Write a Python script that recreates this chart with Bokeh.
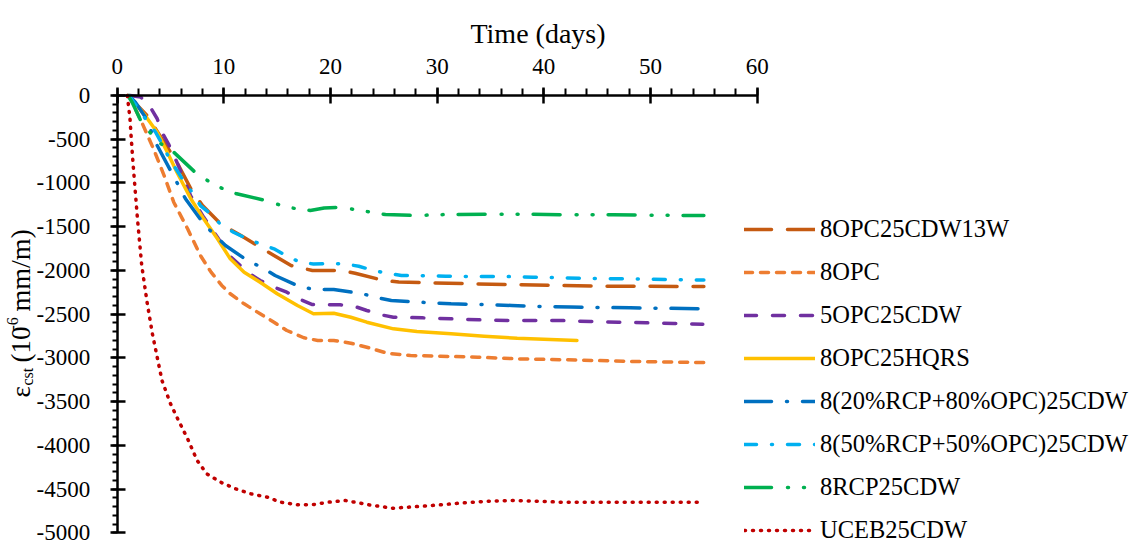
from bokeh.plotting import figure
from bokeh.models import Range1d, FixedTicker, Label, Legend, LegendItem
from bokeh.embed import file_html
from bokeh.resources import INLINE

# ---------------- data ----------------
t_13w = [1.0, 2.8, 4.4, 5.6, 6.9, 8.0, 9.7, 11.6, 13.4, 14.7, 16.3, 18.3, 20.9, 22.3, 25.0, 26.4, 29.2, 33.3, 37.5, 41.6, 45.8, 49.8, 55.0]
v_13w = [0, -229, -534, -763, -1067, -1258, -1467, -1601, -1735, -1829, -1944, -2001, -2001, -2032, -2115, -2132, -2142, -2153, -2164, -2172, -2180, -2180, -2185]

t_opc = [1.1, 2.3, 3.4, 4.4, 5.3, 6.6, 7.8, 8.8, 9.8, 10.6, 11.9, 13.4, 14.7, 15.9, 17.5, 18.8, 20.3, 21.9, 23.4, 25.3, 27.5, 30.3, 33.8, 37.5, 42.2, 48.4, 55.0]
v_opc = [0, -305, -609, -915, -1220, -1524, -1829, -2020, -2172, -2267, -2382, -2496, -2592, -2687, -2770, -2801, -2801, -2832, -2878, -2946, -2973, -2981, -2992, -3011, -3022, -3041, -3053]

t_5opc = [1.2, 2.2, 3.1, 3.75, 4.2, 4.8, 5.65, 6.9, 8.1, 9.4, 10.6, 12.2, 13.4, 14.7, 15.9, 17.0, 18.3, 19.5, 20.9, 22.2, 23.4, 24.7, 25.9, 28.6, 31.3, 33.9, 36.6, 39.1, 41.7, 44.4, 47.0, 49.6, 52.2, 54.9]
v_5opc = [0, -17, -134, -266, -420, -552, -777, -1150, -1390, -1620, -1840, -2020, -2115, -2192, -2249, -2325, -2390, -2393, -2393, -2409, -2458, -2507, -2535, -2542, -2553, -2565, -2573, -2573, -2573, -2584, -2592, -2599, -2607, -2615]

t_hqrs = [1.1, 2.5, 3.75, 4.7, 5.6, 6.9, 8.1, 9.4, 10.6, 11.9, 13.4, 15.0, 16.9, 18.4, 20.3, 21.9, 23.4, 25.9, 28.1, 31.3, 34.4, 37.5, 43.1]
v_hqrs = [0, -209, -420, -648, -877, -1181, -1410, -1638, -1867, -2020, -2135, -2267, -2401, -2496, -2489, -2535, -2592, -2668, -2698, -2725, -2752, -2775, -2801]

t_20 = [1.1, 1.7, 2.65, 3.75, 5.0, 5.75, 6.4, 8.0, 9.0, 10.15, 12.2, 13.6, 14.8, 17.2, 18.75, 20.3, 23.0, 24.3, 25.7, 28.4, 31.3, 34.1, 37.0, 39.7, 42.5, 45.3, 48.1, 50.9, 55.0]
v_20 = [0, -77, -248, -572, -858, -1029, -1181, -1448, -1581, -1715, -1886, -1969, -2058, -2192, -2220, -2218, -2267, -2310, -2344, -2363, -2382, -2390, -2401, -2413, -2418, -2424, -2427, -2432, -2439]

t_50 = [1.1, 2.3, 3.6, 4.2, 4.7, 5.3, 6.1, 6.9, 7.8, 8.75, 9.7, 10.9, 12.2, 13.4, 14.7, 15.8, 17.1, 18.4, 19.8, 21.2, 22.65, 23.8, 25.25, 26.65, 28.0, 30.8, 33.4, 36.2, 39.0, 41.7, 44.4, 47.25, 50.0, 52.7, 55.0]
v_50 = [0, -209, -420, -552, -675, -800, -952, -1086, -1258, -1353, -1475, -1563, -1640, -1696, -1753, -1829, -1904, -1927, -1921, -1924, -1952, -1993, -2032, -2058, -2058, -2066, -2069, -2069, -2078, -2084, -2092, -2096, -2100, -2107, -2110]

t_rcp = [1.0, 1.4, 2.2, 3.1, 4.1, 5.3, 7.3, 8.5, 9.8, 11.2, 13.8, 15.2, 16.65, 18.1, 19.4, 20.9, 22.25, 23.75, 25.15, 27.9, 30.8, 35.0, 38.0, 42.2, 46.5, 50.7, 55.0]
v_rcp = [0, -77, -286, -426, -552, -648, -877, -975, -1060, -1124, -1197, -1250, -1292, -1315, -1286, -1277, -1303, -1334, -1361, -1372, -1361, -1357, -1357, -1364, -1364, -1369, -1372]

t_uceb = [0.95, 1.2, 1.3, 1.5, 1.9, 2.3, 2.8, 3.3, 3.75, 4.2, 5.0, 5.6, 6.6, 7.5, 8.4, 9.7, 11.1, 12.5, 14.1, 15.3, 16.9, 18.4, 19.8, 21.4, 23.6, 25.8, 28.1, 30.3, 32.5, 34.7, 37.0, 39.4, 41.6, 55.0]
v_uceb = [0, -266, -457, -800, -1410, -1944, -2363, -2725, -2992, -3259, -3525, -3679, -3925, -4174, -4326, -4422, -4497, -4554, -4593, -4650, -4680, -4677, -4650, -4631, -4680, -4719, -4700, -4680, -4657, -4639, -4631, -4639, -4650, -4650]

series_names = ["8OPC25CDW13W", "8OPC", "5OPC25CDW", "8OPC25HQRS",
                "8(20%RCP+80%OPC)25CDW", "8(50%RCP+50%OPC)25CDW", "8RCP25CDW", "UCEB25CDW"]
x_ticks = [0, 10, 20, 30, 40, 50, 60]
y_ticks = list(range(-5000, 1, 500))

# ---------------- styling ----------------
series_style = [
    ("#C55A11", "27 16"),
    ("#ED7D31", "8 8"),
    ("#7030A0", "12 16"),
    ("#FFC000", "solid"),
    ("#0070C0", "27 15 1 15"),
    ("#00B0F0", "12 15 1 15"),
    ("#00B050", "27 16 1 15 1 15"),
    ("#C00000", "1 7"),
]
series_data = [(t_13w, v_13w), (t_opc, v_opc), (t_5opc, v_5opc), (t_hqrs, v_hqrs),
               (t_20, v_20), (t_50, v_50), (t_rcp, v_rcp), (t_uceb, v_uceb)]

FONT = "Liberation Serif"
W, H = 1135, 544
# pixel positions of the axis ends in the page
X0PX, X60PX = 116.7, 756.7
Y0PX, Y5000PX = 95.0, 532.3
sx = (X60PX - X0PX) / 60.0
sy = (Y5000PX - Y0PX) / 5000.0

p = figure(width=W, height=H, output_backend="svg", toolbar_location=None,
           x_range=Range1d(-X0PX / sx, (W - X0PX) / sx),
           y_range=Range1d(-(H - Y0PX) / sy, Y0PX / sy),
           x_axis_location="above", y_axis_location="left",
           min_border=0, min_border_left=0, min_border_right=0,
           min_border_top=0, min_border_bottom=0)
p.xgrid.visible = False
p.ygrid.visible = False
p.outline_line_color = None
p.background_fill_color = "white"
p.border_fill_color = "white"

xa = p.xaxis[0]
ya = p.yaxis[0]
xa.fixed_location = 0
ya.fixed_location = 0
xa.bounds = (0, 60)
ya.bounds = (-5000, 0)
xa.ticker = FixedTicker(ticks=x_ticks, minor_ticks=list(range(0, 61, 2)))
ya.ticker = FixedTicker(ticks=y_ticks, minor_ticks=list(range(-5000, 1, 100)))
xa.major_label_overrides = {v: str(v) for v in x_ticks}
ya.major_label_overrides = {v: str(v) for v in y_ticks}
for ax in (xa, ya):
    ax.axis_line_width = 2.5
    ax.axis_line_color = "black"
    ax.major_tick_line_width = 2.5
    ax.minor_tick_line_width = 2
    ax.major_tick_line_color = "black"
    ax.minor_tick_line_color = "black"
    ax.major_label_text_font = FONT
    ax.major_label_text_font_size = "23px"
    ax.major_label_text_color = "black"
    ax.axis_label = None
xa.major_tick_in = 8
xa.major_tick_out = 8
xa.minor_tick_in = 0
xa.minor_tick_out = 7
xa.major_label_standoff = 14
ya.major_tick_in = 8
ya.major_tick_out = 7
ya.minor_tick_in = 0
ya.minor_tick_out = 5
ya.major_label_standoff = 20

items = []
for name, (t, v), (color, dash) in zip(series_names, series_data, series_style):
    r = p.line(t, v, line_color=color, line_width=3.5, line_dash=dash,
               line_cap="round", line_join="round")
    items.append(LegendItem(label=name, renderers=[r]))

legend = Legend(items=items, location=(744, 0),
                glyph_width=71, glyph_height=28, label_height=28, spacing=15,
                label_standoff=5, padding=0, margin=0,
                label_text_font=FONT, label_text_font_size="24.5px", label_text_color="black",
                border_line_color=None, background_fill_alpha=0)
p.add_layout(legend, "center")

# canvas pixel -> data coordinates (for text placement)
def cx(px):
    return (px - X0PX) / sx
def cy(py):
    return -(py - Y0PX) / sy

p.add_layout(Label(x=cx(537.5), y=cy(33), text="Time (days)", text_align="center",
                   text_baseline="alphabetic", text_font=FONT, text_font_size="28px",
                   text_color="black"))

pieces = [
    ("\u03b5", 397, 20, "27px"),
    ("cst", 385, 27, "16px"),
    ("(10", 362, 20, "27px"),
    ("-6", 330, 12, "16px"),
    ("mm/m)", 311, 20, "28px"),
]
for txt, ystart, xbase, fs in pieces:
    p.add_layout(Label(x=cx(xbase), y=cy(ystart), text=txt, angle=90, angle_units="deg",
                       text_align="left", text_baseline="alphabetic", text_font=FONT,
                       text_font_size=fs, text_color="black"))

open("out.html", "w").write(file_html(p, INLINE))
